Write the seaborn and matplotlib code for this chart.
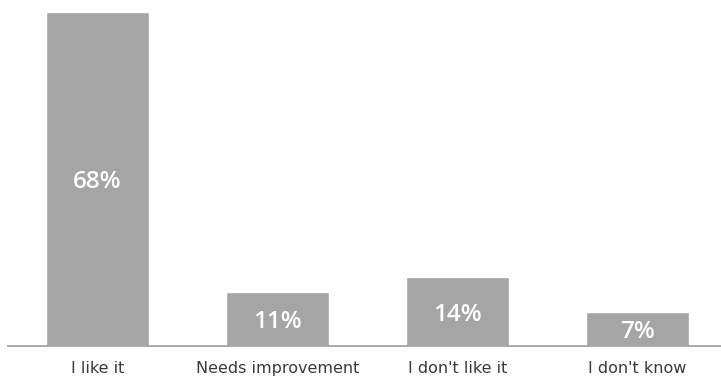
import matplotlib
matplotlib.use("Agg")
import matplotlib.pyplot as plt
import seaborn as sns
import pandas as pd

categories = ["I like it", "Needs improvement", "I don't like it", "I don't know"]
shares = [68, 11, 14, 7]
labels = ["68%", "11%", "14%", "7%"]

df = pd.DataFrame({"category": categories, "share": shares})

sns.set_theme(style="white")
plt.rcParams["font.family"] = ["DejaVu Sans"]

W, H = 721, 376
fig = plt.figure(figsize=(W / 100, H / 100), dpi=100)
ax = fig.add_axes([8 / W, 30 / H, 1 - 8 / W, (H - 30 - 12) / H])

bar_color = "#A5A5A5"
sns.barplot(data=df, x="category", y="share", color=bar_color, width=0.572,
            saturation=1, ax=ax)

ax.set_ylim(0, 68)
ax.set_xlim(-0.497, 3.464)

for patch, text in zip(ax.patches, labels):
    cx = patch.get_x() + patch.get_width() / 2
    cy = patch.get_height() / 2
    ax.text(cx, cy, text, ha="center", va="center_baseline", color="white",
            fontsize=17.5, fontweight="semibold", family=["Open Sans", "DejaVu Sans"])

sns.despine(ax=ax, left=True, top=True, right=True)
ax.spines["bottom"].set_color("#A5A5A5")
ax.spines["bottom"].set_linewidth(1.3)
ax.set_yticks([])
ax.set_xlabel("")
ax.set_ylabel("")
ax.tick_params(axis="x", length=0, pad=11, labelsize=11.5, labelcolor="#3A3A3A")

fig.savefig("out.png", dpi=100)
